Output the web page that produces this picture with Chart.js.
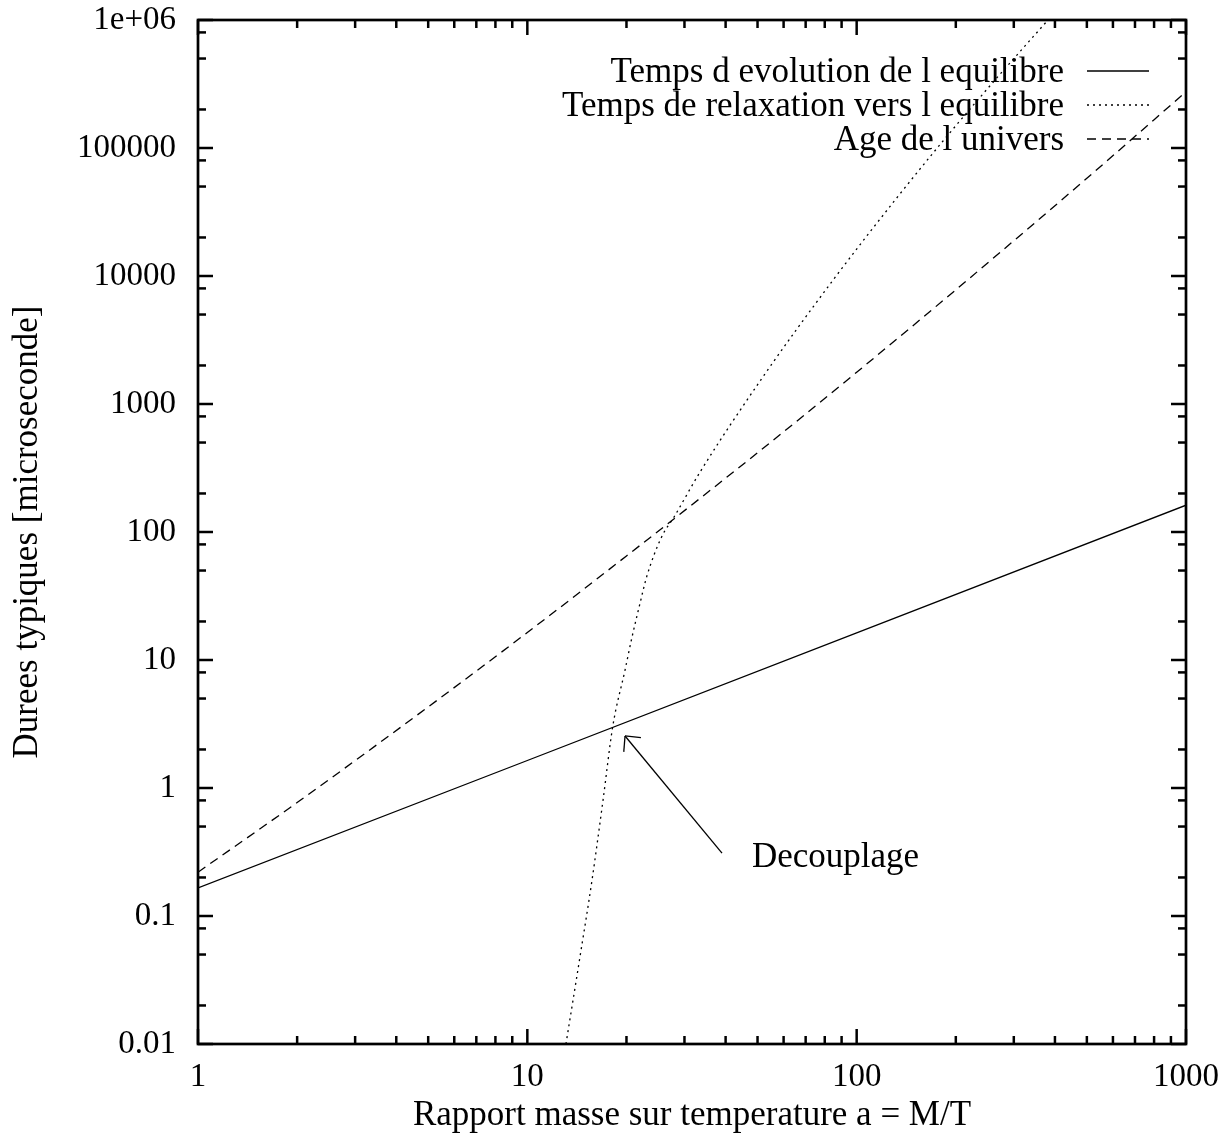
<!DOCTYPE html>
<html>
<head>
<meta charset="utf-8">
<script src="https://cdn.jsdelivr.net/npm/chart.js@4.4.1/dist/chart.umd.min.js"></script>
<style>
  html, body { margin: 0; padding: 0; background: #fff; }
</style>
</head>
<body>
<canvas id="chart" width="1230" height="1136"></canvas>
<script>
// Series (x = M/T, y = microseconds)
const evolX = [1, 10, 100, 1000];
const evolY = [0.166, 1.64, 16.3, 162];

const relaxX = [13.1, 14.35, 15.72, 16.98, 18.16, 19.8, 20.79, 22.0, 23.04, 25.59, 27.89, 33.45, 51.9, 84.8, 130.8, 182.9, 263.1, 381];
const relaxY = [0.01, 0.0429, 0.191, 0.806, 3.0, 8.35, 15.1, 27.9, 44.8, 91.9, 131, 294, 1626, 9300, 39200, 113500, 340000, 1e6];

const ageX = [1, 2, 5, 10, 20, 50, 100, 200, 500, 1000];
const ageY = [0.22, 0.77, 4.3, 16.4, 65, 416, 1770, 7800, 58000, 275000];

const seriesNames = ['Temps d evolution de l equilibre', 'Temps de relaxation vers l equilibre', 'Age de l univers'];

// Axis ticks
const xTicks = [1, 10, 100, 1000];
const xTickLabels = ['1', '10', '100', '1000'];
const xMinor = [2, 3, 4, 5, 6, 7, 8, 9, 20, 30, 40, 50, 60, 70, 80, 90, 200, 300, 400, 500, 600, 700, 800, 900];
const yTicks = [0.01, 0.1, 1, 10, 100, 1000, 10000, 100000, 1e6];
const yTickLabels = ['0.01', '0.1', '1', '10', '100', '1000', '10000', '100000', '1e+06'];
const yMinor = [0.02, 0.05, 0.08, 0.2, 0.5, 0.8, 2, 5, 8, 20, 50, 80, 200, 500, 800, 2000, 5000, 8000, 20000, 50000, 80000, 200000, 500000, 800000];

// Annotation (data coordinates)
const arrowFrom = [39.0, 0.31];
const arrowTo = [19.8, 2.55];
const noteAt = [48.1, 0.294];
const noteText = 'Decouplage';

const xTitle = 'Rapport masse sur temperature a = M/T';
const yTitle = 'Durees typiques [microseconde]';

const FONT = '"Liberation Serif", "Times New Roman", serif';
const dashes = [[], [2, 4], [9, 6]];

function pts(xs, ys) {
  return xs.map((v, i) => ({ x: v, y: ys[i] }));
}

// frame, inward ticks, legend, arrow and titles
const decorations = {
  id: 'decorations',
  afterDraw(chart) {
    const { ctx, chartArea: a, scales } = chart;
    const sx = scales.x, sy = scales.y;
    ctx.save();
    ctx.strokeStyle = '#000';
    ctx.fillStyle = '#000';

    function seg(x1, y1, x2, y2) {
      ctx.beginPath();
      ctx.moveTo(x1, y1);
      ctx.lineTo(x2, y2);
      ctx.stroke();
    }

    // ticks
    ctx.lineWidth = 2.5;
    xTicks.concat(xMinor).forEach(v => {
      const len = xTicks.includes(v) ? 15 : 8;
      const px = sx.getPixelForValue(v);
      seg(px, a.bottom, px, a.bottom - len);
      seg(px, a.top, px, a.top + len);
    });
    yTicks.concat(yMinor).forEach(v => {
      const len = yTicks.includes(v) ? 15 : 8;
      const py = sy.getPixelForValue(v);
      seg(a.left, py, a.left + len, py);
      seg(a.right, py, a.right - len, py);
    });

    // frame
    ctx.lineWidth = 2.7;
    ctx.strokeRect(a.left, a.top, a.right - a.left, a.bottom - a.top);

    // legend
    ctx.font = '35px ' + FONT;
    ctx.textAlign = 'right';
    ctx.textBaseline = 'middle';
    ctx.lineWidth = 1.3;
    seriesNames.forEach((name, i) => {
      const ly = 71 + i * 34;
      ctx.fillText(name, 1064, ly + 2);
      ctx.setLineDash(dashes[i]);
      seg(1087, ly, 1149, ly);
      ctx.setLineDash([]);
    });

    // arrow
    const tx = sx.getPixelForValue(arrowFrom[0]), ty = sy.getPixelForValue(arrowFrom[1]);
    const hx = sx.getPixelForValue(arrowTo[0]), hy = sy.getPixelForValue(arrowTo[1]);
    seg(tx, ty, hx, hy);
    const ang = Math.atan2(ty - hy, tx - hx);
    [-0.77, 0.77].forEach(d => {
      seg(hx, hy, hx + 16 * Math.cos(ang + d), hy + 16 * Math.sin(ang + d));
    });

    ctx.textAlign = 'left';
    ctx.fillText(noteText, sx.getPixelForValue(noteAt[0]), sy.getPixelForValue(noteAt[1]) + 2);

    // axis titles
    ctx.textAlign = 'center';
    ctx.textBaseline = 'alphabetic';
    ctx.fillText(xTitle, (a.left + a.right) / 2, 1125);
    ctx.translate(37, (a.top + a.bottom) / 2);
    ctx.rotate(-Math.PI / 2);
    ctx.fillText(yTitle, 0, 0);
    ctx.restore();
  }
};

const ctx = document.getElementById('chart').getContext('2d');
new Chart(ctx, {
  type: 'line',
  data: {
    datasets: [
      { label: seriesNames[0], data: pts(evolX, evolY), borderColor: '#000', borderWidth: 1.3, pointRadius: 0, borderDash: dashes[0] },
      { label: seriesNames[1], data: pts(relaxX, relaxY), borderColor: '#000', borderWidth: 1.3, pointRadius: 0, borderDash: dashes[1], cubicInterpolationMode: 'monotone' },
      { label: seriesNames[2], data: pts(ageX, ageY), borderColor: '#000', borderWidth: 1.3, pointRadius: 0, borderDash: dashes[2], cubicInterpolationMode: 'monotone' }
    ]
  },
  options: {
    responsive: false,
    animation: false,
    devicePixelRatio: 1,
    layout: { padding: { left: 0, right: 44, top: 20, bottom: 0 } },
    plugins: {
      legend: { display: false },
      tooltip: { enabled: false }
    },
    scales: {
      x: {
        type: 'logarithmic',
        min: 1,
        max: 1000,
        grid: { display: false, drawTicks: false },
        border: { display: false },
        afterBuildTicks: s => { s.ticks = xTicks.map(v => ({ value: v })); },
        afterFit: s => { s.height = 92; s.paddingLeft = 0; s.paddingRight = 0; },
        ticks: {
          color: '#000',
          font: { family: FONT, size: 33 },
          padding: 14,
          maxRotation: 0,
          autoSkip: false,
          callback: (v, i) => xTickLabels[i]
        }
      },
      y: {
        type: 'logarithmic',
        min: 0.01,
        max: 1e6,
        grid: { display: false, drawTicks: false },
        border: { display: false },
        afterBuildTicks: s => { s.ticks = yTicks.map(v => ({ value: v })); },
        afterFit: s => { s.width = 198; s.paddingTop = 0; s.paddingBottom = 0; },
        ticks: {
          color: '#000',
          font: { family: FONT, size: 33 },
          padding: 22,
          autoSkip: false,
          callback: (v, i) => yTickLabels[i]
        }
      }
    }
  },
  plugins: [decorations]
});
</script>
</body>
</html>
